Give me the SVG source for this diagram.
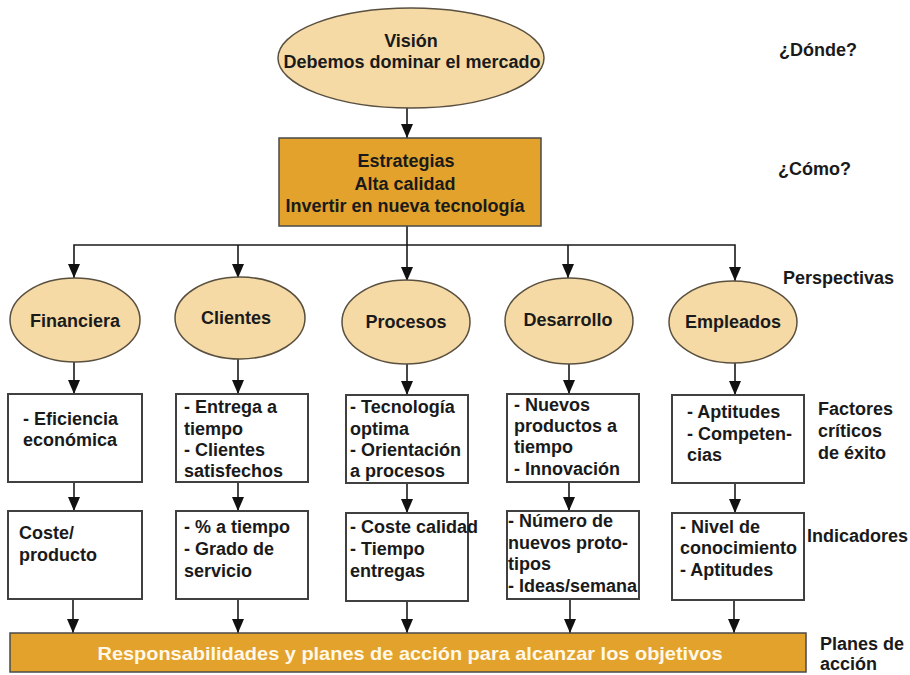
<svg xmlns="http://www.w3.org/2000/svg" width="910" height="675" viewBox="0 0 910 675">
  <style>
    text { font-family: "Liberation Sans", Arial, sans-serif; font-weight: bold; font-size: 18px; fill: #1a1a1a; }
    .c { text-anchor: middle; }
    .oval { fill: #F5DAA6; stroke: #5a5040; stroke-width: 1.5; }
    .gold { fill: #E2A22C; stroke: #4a4a4a; stroke-width: 1.5; }
    .box { fill: #ffffff; stroke: #404040; stroke-width: 2; }
    .wire { fill: none; stroke: #1a1a1a; stroke-width: 1.6; }
    .white { fill: #fff8e8; font-size: 19px; }
  </style>
  <defs>
    <marker id="arrow" markerUnits="userSpaceOnUse" markerWidth="14" markerHeight="12" refX="14" refY="6" orient="auto">
      <path d="M0,0 L14,6 L0,12 z" fill="#111"/>
    </marker>
  </defs>

  <rect width="910" height="675" fill="#ffffff"/>

  <!-- connectors -->
  <g id="connectors" class="wire" marker-end="url(#arrow)">
    <line x1="407" y1="108" x2="407" y2="138"/>
    <path d="M407,226 V245 H74 V278" />
    <path d="M238,245 V278" />
    <path d="M407,245 V281" />
    <path d="M568,245 V278" />
    <path d="M407,245 H735 V281" />
    <line x1="74" y1="362" x2="74" y2="394"/>
    <line x1="238" y1="359" x2="238" y2="394"/>
    <line x1="407" y1="364" x2="407" y2="395"/>
    <line x1="569" y1="364" x2="569" y2="394"/>
    <line x1="735" y1="363" x2="735" y2="395"/>
    <line x1="74" y1="482" x2="74" y2="511"/>
    <line x1="238" y1="482" x2="238" y2="511"/>
    <line x1="407" y1="483" x2="407" y2="513"/>
    <line x1="569" y1="482" x2="569" y2="511"/>
    <line x1="735" y1="483" x2="735" y2="513"/>
    <line x1="73" y1="599" x2="73" y2="633"/>
    <line x1="238" y1="599" x2="238" y2="633"/>
    <line x1="407" y1="601" x2="407" y2="633"/>
    <line x1="570" y1="599" x2="570" y2="633"/>
    <line x1="734" y1="600" x2="734" y2="633"/>
  </g>

  <!-- vision -->
  <g id="vision">
    <ellipse class="oval" cx="411" cy="58" rx="133" ry="50"/>
    <text class="c" x="411" y="47">Visión</text>
    <text class="c" x="412" y="68">Debemos dominar el mercado</text>
  </g>

  <!-- strategies -->
  <g id="estrategias">
    <rect class="gold" x="279" y="138" width="262" height="88"/>
    <text class="c" x="406" y="167">Estrategias</text>
    <text class="c" x="405" y="190">Alta calidad</text>
    <text class="c" x="405" y="212">Invertir en nueva tecnología</text>
  </g>

  <!-- perspectives -->
  <g id="financiera">
    <ellipse class="oval" cx="75" cy="320" rx="65" ry="42"/>
    <text class="c" x="75" y="327">Financiera</text>
  </g>
  <g id="clientes">
    <ellipse class="oval" cx="240" cy="318" rx="65" ry="41"/>
    <text class="c" x="236" y="324">Clientes</text>
  </g>
  <g id="procesos">
    <ellipse class="oval" cx="406" cy="322" rx="64" ry="42"/>
    <text class="c" x="406" y="328">Procesos</text>
  </g>
  <g id="desarrollo">
    <ellipse class="oval" cx="569" cy="321" rx="64" ry="43"/>
    <text class="c" x="568" y="326">Desarrollo</text>
  </g>
  <g id="empleados">
    <ellipse class="oval" cx="733" cy="322" rx="64" ry="41"/>
    <text class="c" x="733" y="328">Empleados</text>
  </g>

  <!-- critical success factors -->
  <g id="factor-financiera">
    <rect class="box" x="8" y="394" width="134" height="88"/>
    <text x="23" y="425">- Eficiencia</text>
    <text x="23" y="446">económica</text>
  </g>
  <g id="factor-clientes">
    <rect class="box" x="176" y="394" width="132" height="88"/>
    <text x="184" y="413">- Entrega a</text>
    <text x="184" y="435">tiempo</text>
    <text x="184" y="456">- Clientes</text>
    <text x="184" y="477">satisfechos</text>
  </g>
  <g id="factor-procesos">
    <rect class="box" x="346" y="395" width="122" height="88"/>
    <text x="350" y="413">- Tecnología</text>
    <text x="350" y="435">optima</text>
    <text x="350" y="456">- Orientación</text>
    <text x="350" y="477">a procesos</text>
  </g>
  <g id="factor-desarrollo">
    <rect class="box" x="507" y="394" width="132" height="88"/>
    <text x="514" y="411">- Nuevos</text>
    <text x="514" y="432">productos a</text>
    <text x="514" y="453">tiempo</text>
    <text x="514" y="475">- Innovación</text>
  </g>
  <g id="factor-empleados">
    <rect class="box" x="672" y="395" width="132" height="88"/>
    <text x="687" y="418">- Aptitudes</text>
    <text x="687" y="440">- Competen-</text>
    <text x="687" y="461">cias</text>
  </g>

  <!-- indicators -->
  <g id="ind-financiera">
    <rect class="box" x="8" y="511" width="134" height="88"/>
    <text x="19" y="539">Coste/</text>
    <text x="19" y="561">producto</text>
  </g>
  <g id="ind-clientes">
    <rect class="box" x="176" y="511" width="132" height="88"/>
    <text x="184" y="533">- % a tiempo</text>
    <text x="184" y="555">- Grado de</text>
    <text x="184" y="577">servicio</text>
  </g>
  <g id="ind-procesos">
    <rect class="box" x="346" y="513" width="122" height="88"/>
    <text x="350" y="533">- Coste calidad</text>
    <text x="350" y="555">- Tiempo</text>
    <text x="350" y="577">entregas</text>
  </g>
  <g id="ind-desarrollo">
    <rect class="box" x="507" y="511" width="132" height="88"/>
    <text x="508" y="527">- Número de</text>
    <text x="508" y="549">nuevos proto-</text>
    <text x="508" y="570">tipos</text>
    <text x="508" y="592">- Ideas/semana</text>
  </g>
  <g id="ind-empleados">
    <rect class="box" x="672" y="513" width="132" height="87"/>
    <text x="680" y="533">- Nivel de</text>
    <text x="680" y="554">conocimiento</text>
    <text x="680" y="576">- Aptitudes</text>
  </g>

  <!-- action plans -->
  <g id="planes">
    <rect class="gold" x="10" y="633" width="796" height="39"/>
    <text class="c white" x="410" y="660" textLength="625" lengthAdjust="spacingAndGlyphs">Responsabilidades y planes de acción para alcanzar los objetivos</text>
  </g>

  <!-- level labels -->
  <g id="labels">
    <text x="779" y="56">¿Dónde?</text>
    <text x="778" y="175">¿Cómo?</text>
    <text x="783" y="284">Perspectivas</text>
    <text x="818" y="415">Factores</text>
    <text x="818" y="437">críticos</text>
    <text x="818" y="459">de éxito</text>
    <text x="807" y="542">Indicadores</text>
    <text x="820" y="650">Planes de</text>
    <text x="820" y="670">acción</text>
  </g>
</svg>
